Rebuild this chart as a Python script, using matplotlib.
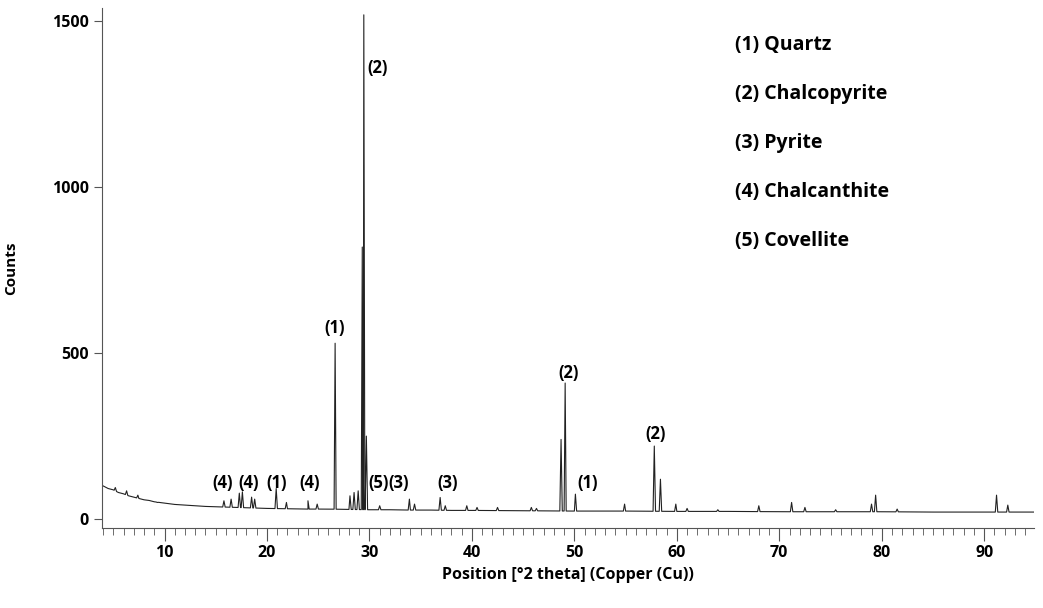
import matplotlib
matplotlib.use("Agg")
import matplotlib.pyplot as plt
from matplotlib.ticker import MultipleLocator

plt.rcParams['font.family'] = ['Open Sans', 'DejaVu Sans']

# background trace (position, counts)
bg_x = [4.0, 4.5, 5.0, 5.5, 6.0, 6.5, 7.0, 7.5, 8.0, 8.5, 9.0, 9.5, 10.0, 11, 12, 13, 14, 15, 16, 17, 18, 19, 20,
        22, 24, 26, 28, 30, 32, 34, 36, 38, 40, 45, 50, 55, 60, 65, 70, 75, 80, 85, 90, 95]
bg_y = [100, 92, 88, 80, 76, 70, 66, 62, 58, 56, 52, 50, 48, 44, 42, 40, 38, 37, 36, 35, 34, 33, 32,
        31, 30, 30, 29, 28, 28, 27, 27, 26, 26, 25, 24, 24, 23, 23, 22, 22, 22, 21, 21, 21]
# peaks (position, height counts)
pk_x = [5.2, 6.3, 7.4, 9.3, 15.8, 16.5, 17.3, 17.6, 18.5, 18.8, 20.9, 21.9, 24.0, 24.9, 26.65, 28.1, 28.5, 28.9,
        29.3, 29.45, 29.7, 31.0, 33.9, 34.4, 36.9, 37.4, 39.5, 40.5, 42.5, 45.8, 46.3, 48.7, 49.1, 50.1, 54.9, 57.8,
        58.4, 59.9, 61.0, 64.0, 68.0, 71.2, 72.5, 75.5, 79.0, 79.4, 81.5, 91.2, 92.3]
pk_y = [95, 85, 72, 50, 55, 60, 78, 82, 66, 60, 92, 50, 55, 45, 530, 70, 80, 85,
        820, 1520, 250, 40, 60, 45, 65, 40, 40, 35, 35, 35, 32, 240, 410, 75, 45, 220,
        120, 45, 32, 28, 40, 50, 35, 28, 45, 72, 30, 72, 42]

def bg_at(x):
    for i in range(len(bg_x) - 1):
        if bg_x[i] <= x <= bg_x[i + 1]:
            t = (x - bg_x[i]) / (bg_x[i + 1] - bg_x[i])
            return bg_y[i] + t * (bg_y[i + 1] - bg_y[i])
    return bg_y[-1]

pts = [(x, y) for x, y in zip(bg_x, bg_y)]
for x, h in zip(pk_x, pk_y):
    w = 0.12 if h < 300 else 0.1
    pts += [(x - w, bg_at(x - w)), (x, h), (x + w, bg_at(x + w))]
pts.sort()
tx = [p[0] for p in pts]
ty = [p[1] for p in pts]

labels = ["(2)", "(1)", "(2)", "(2)", "(1)", "(4)", "(4)", "(1)", "(4)", "(5)", "(3)", "(3)"]
lab_x = [30.8, 26.6, 49.4, 57.9, 51.3, 15.7, 18.2, 20.9, 24.2, 30.9, 32.8, 37.6]
lab_y = [1360, 575, 440, 255, 110, 110, 110, 110, 110, 110, 110, 110]

legend_items = ["(1) Quartz", "(2) Chalcopyrite", "(3) Pyrite", "(4) Chalcanthite", "(5) Covellite"]

fig = plt.figure(figsize=(10.43, 6.08), dpi=100)
ax = fig.add_axes([0.0978, 0.1316, 0.894, 0.856])
ax.plot(tx, ty, color='#222222', lw=0.8)
ax.set_xlim(3.9, 94.9)
ax.set_ylim(-27, 1542)
for s in ['top', 'right']:
    ax.spines[s].set_visible(False)
for s in ['left', 'bottom']:
    ax.spines[s].set_color('#555555')
ax.xaxis.set_major_locator(MultipleLocator(10))
ax.xaxis.set_minor_locator(MultipleLocator(1))
ax.set_yticks([0, 500, 1000, 1500])
ax.tick_params(axis='x', which='major', length=9, color='#555555', labelsize=11.5)
ax.tick_params(axis='x', which='minor', length=5, color='#555555')
ax.tick_params(axis='y', length=6, color='#555555', labelsize=11.5)
for t in ax.get_xticklabels() + ax.get_yticklabels():
    t.set_fontweight('bold')
ax.set_xlabel("Position [°2 theta] (Copper (Cu))", fontsize=11.5, fontweight='bold')
ax.set_ylabel("Counts", fontsize=11, fontweight='bold', labelpad=24)

for s, x, y in zip(labels, lab_x, lab_y):
    ax.text(x, y, s, ha='center', va='center', fontsize=12, fontweight='bold')

for i, s in enumerate(legend_items):
    fig.text(0.705, 1 - (45 + 49 * i) / 608, s, fontsize=14, fontweight='bold', va='center')

fig.savefig("out.png", dpi=100)
